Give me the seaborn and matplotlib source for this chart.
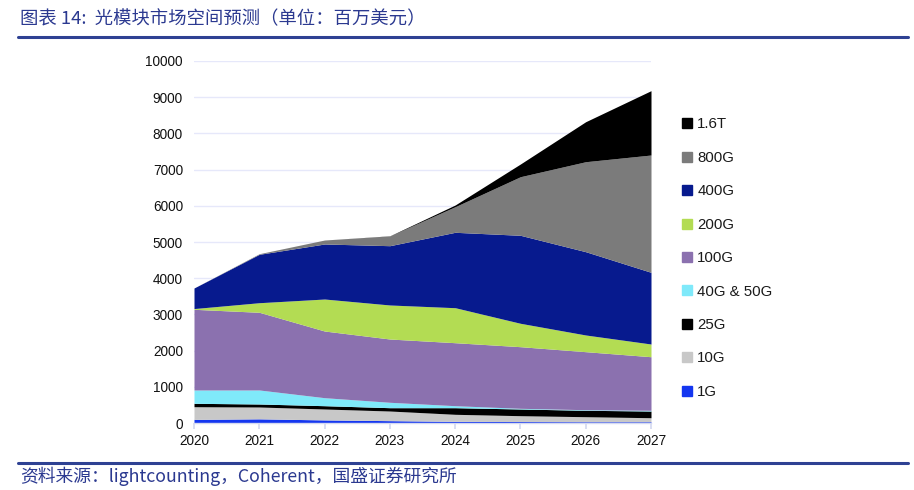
import matplotlib
matplotlib.use("Agg")
import matplotlib.pyplot as plt
from matplotlib.lines import Line2D
import seaborn as sns
import numpy as np

years = [2020, 2021, 2022, 2023, 2024, 2025, 2026, 2027]
series_names = ["1G", "10G", "25G", "40G & 50G", "100G", "200G", "400G", "800G", "1.6T"]
v_1g = [100, 115, 85, 65, 45, 40, 35, 35]
v_10g = [350, 327, 302, 266, 195, 162, 139, 111]
v_25g = [94, 83, 91, 92, 183, 185, 177, 185]
v_40g = [368, 387, 221, 149, 55, 19, 16, 20]
v_100g = [2229, 2146, 1842, 1748, 1740, 1702, 1603, 1480]
v_200g = [20, 265, 884, 940, 967, 646, 461, 351]
v_400g = [568, 1337, 1520, 1638, 2083, 2431, 2301, 1981]
v_800g = [0, 17, 110, 268, 707, 1619, 2486, 3240]
v_16t = [0, 0, 0, 5, 47, 351, 1105, 1777]
colors = ["#1436F0", "#C8C8C8", "#000000", "#7FE9FA", "#8B71AF",
          "#B3DC53", "#071A8E", "#7B7B7B", "#000000"]

sns.set_theme(style="white")
plt.rcParams['font.family'] = ['Noto Sans CJK SC', 'DejaVu Sans']

fig = plt.figure(figsize=(9.14, 4.90), dpi=100)
ax = fig.add_axes([194/914, 1-423/490, (651-194)/914, (423-61)/490])

data = [v_1g, v_10g, v_25g, v_40g, v_100g, v_200g, v_400g, v_800g, v_16t]
ax.stackplot(years, *data, colors=colors, labels=series_names, linewidth=0)

ax.set_xlim(2020, 2027)
ax.set_ylim(0, 10000)
ax.set_yticks(np.arange(0, 10001, 1000))
ax.set_xticks(years)
ax.set_xticklabels([str(y) for y in years], fontsize=9.8, color="#111111",
                   family=['Liberation Sans', 'DejaVu Sans'])
ax.set_yticklabels([str(v) for v in range(0, 10001, 1000)], fontsize=9.8,
                   color="#111111", family=['Liberation Sans', 'DejaVu Sans'])
ax.yaxis.grid(True, color="#E6E8FA", linewidth=1)
ax.set_axisbelow(True)
for s in ["top", "right", "left"]:
    ax.spines[s].set_visible(False)
ax.spines["bottom"].set_color("#D5DAF0")
ax.spines["bottom"].set_linewidth(1)
ax.tick_params(axis="x", bottom=True, length=4, color="#D5DAF0", pad=4)
ax.tick_params(axis="y", left=False, length=0, pad=8)

handles = [Line2D([0], [0], marker="s", linestyle="none", markersize=6.5,
                  markerfacecolor=c, markeredgecolor=c) for c in colors]
fig.legend(handles[::-1], series_names[::-1], loc="upper left",
           bbox_to_anchor=(674/914, 1-110/490), frameon=False,
           prop={'family': ['Liberation Sans', 'DejaVu Sans'], 'size': 10.8},
           labelspacing=1.295, handlelength=0.7, handletextpad=0.35,
           labelcolor="#1a1a1a", borderpad=0)

title_color = "#2B3990"
fig.text(20/914, 1-19/490, "图表 14:  光模块市场空间预测（单位：百万美元）",
         fontsize=13.2, color=title_color, style="italic", va="center", ha="left")
fig.add_artist(Line2D([18/914, 908/914], [1-37/490, 1-37/490], color="#2E4193", linewidth=2.2))
fig.add_artist(Line2D([18/914, 908/914], [1-463/490, 1-463/490], color="#2E4193", linewidth=2.2))
fig.text(20/914, 1-476/490, "资料来源：lightcounting，Coherent，国盛证券研究所",
         fontsize=12.8, color=title_color, style="italic", va="center", ha="left")

fig.savefig("out.png", dpi=100)
